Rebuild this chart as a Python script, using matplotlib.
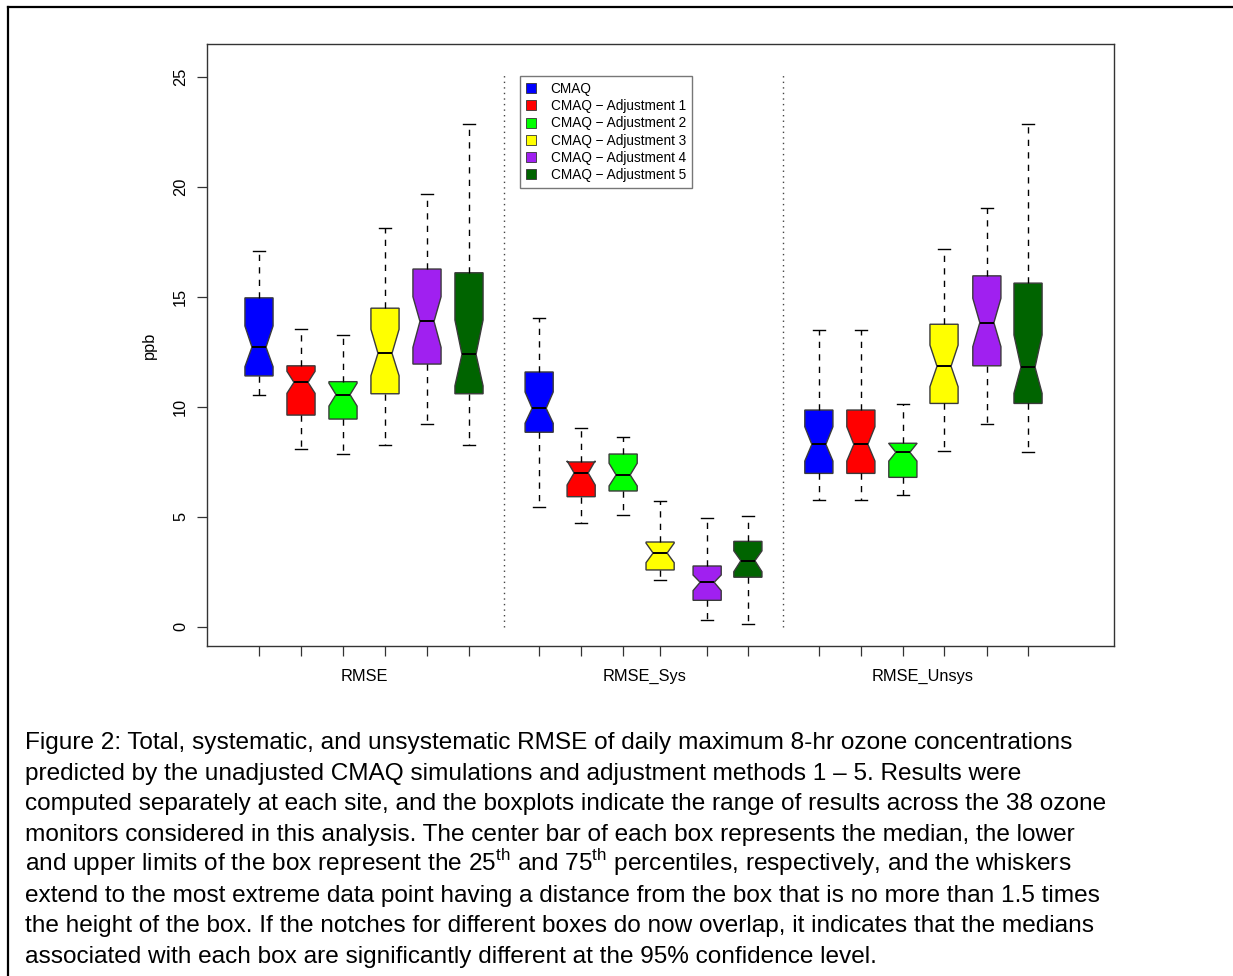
import matplotlib
matplotlib.use("Agg")
import matplotlib.pyplot as plt
from matplotlib.patches import Patch
from matplotlib.lines import Line2D
import matplotlib.transforms as mtransforms

plt.rcParams['font.family'] = ['Liberation Sans', 'DejaVu Sans']
plt.rcParams['mathtext.fontset'] = 'custom'
plt.rcParams['mathtext.rm'] = 'Liberation Sans'

# summary statistics (ppb), one row per metric group
groups = ["RMSE", "RMSE_Sys", "RMSE_Unsys"]
series = ["CMAQ", "CMAQ \u2212 Adjustment 1", "CMAQ \u2212 Adjustment 2",
          "CMAQ \u2212 Adjustment 3", "CMAQ \u2212 Adjustment 4", "CMAQ \u2212 Adjustment 5"]
colors = ["#0000FF", "#FF0000", "#00FF00", "#FFFF00", "#A020F0", "#006400"]

whishi = [[17.09, 13.52, 13.26, 18.11, 19.66, 22.85],
          [14.03, 9.05, 8.64, 5.73, 4.94, 5.02],
          [13.49, 13.49, 10.11, 17.18, 19.03, 22.84]]
q3 = [[14.95, 11.86, 11.14, 14.48, 16.26, 16.09],
      [11.58, 7.49, 7.85, 3.85, 2.76, 3.88],
      [9.85, 9.85, 8.34, 13.75, 15.95, 15.62]]
med = [[12.71, 11.11, 10.55, 12.43, 13.88, 12.38],
       [9.93, 6.99, 6.90, 3.35, 2.02, 3.00],
       [8.29, 8.29, 7.93, 11.84, 13.82, 11.80]]
q1 = [[11.40, 9.62, 9.44, 10.59, 11.94, 10.59],
      [8.84, 5.91, 6.17, 2.58, 1.20, 2.25],
      [6.97, 6.97, 6.79, 10.15, 11.86, 10.15]]
whislo = [[10.52, 8.09, 7.86, 8.25, 9.23, 8.25],
          [5.44, 4.70, 5.06, 2.11, 0.30, 0.12],
          [5.77, 5.77, 5.97, 7.99, 9.21, 7.93]]
notch_lo = [[11.82, 10.61, 10.03, 11.41, 12.70, 10.95],
            [9.25, 6.44, 6.40, 2.91, 1.64, 2.50],
            [7.53, 7.53, 7.53, 10.91, 12.73, 10.61]]
notch_hi = [[13.67, 11.61, 11.07, 13.52, 15.00, 13.94],
            [10.67, 7.54, 7.43, 3.80, 2.35, 3.45],
            [9.09, 9.09, 8.33, 12.80, 14.93, 13.26]]

caption = [
    "Figure 2: Total, systematic, and unsystematic RMSE of daily maximum 8-hr ozone concentrations",
    "predicted by the unadjusted CMAQ simulations and adjustment methods 1 \u2013 5. Results were",
    "computed separately at each site, and the boxplots indicate the range of results across the 38 ozone",
    "monitors considered in this analysis. The center bar of each box represents the median, the lower",
    r"and upper limits of the box represent the 25$^{\mathrm{th}}$ and 75$^{\mathrm{th}}$ percentiles, respectively, and the whiskers",
    "extend to the most extreme data point having a distance from the box that is no more than 1.5 times",
    "the height of the box. If the notches for different boxes do now overlap, it indicates that the medians",
    "associated with each box are significantly different at the 95% confidence level.",
]

W, H = 1233, 976
fig = plt.figure(figsize=(W / 100, H / 100), dpi=100)
ax = fig.add_axes([207 / W, 1 - 646 / H, (1114 - 207) / W, (646 - 44) / H])

# box positions (the fourth box of the middle group sits a little left in the original)
positions = [1, 2, 3, 4, 5, 6,
             7.67, 8.67, 9.67, 10.55, 11.67, 12.64,
             14.33, 15.33, 16.33, 17.31, 18.33, 19.31]

stats = []
fills = []
for g in range(3):
    for s in range(6):
        stats.append(dict(med=med[g][s], q1=q1[g][s], q3=q3[g][s],
                          whislo=whislo[g][s], whishi=whishi[g][s],
                          cilo=notch_lo[g][s], cihi=notch_hi[g][s], fliers=[]))
        fills.append(colors[s])

bp = ax.bxp(stats, positions=positions, widths=0.67, capwidths=0.3,
            patch_artist=True, shownotches=True, showfliers=False,
            boxprops=dict(edgecolor="#3a3a3a", linewidth=1.0),
            medianprops=dict(color="black", linewidth=1.4),
            whiskerprops=dict(color="black", linewidth=1.0, linestyle=(0, (4.5, 4.5))),
            capprops=dict(color="black", linewidth=1.0))
for patch, c in zip(bp["boxes"], fills):
    patch.set_facecolor(c)

# dotted separators between the groups
for xs in [6.83, 13.48]:
    ax.plot([xs, xs], [0, 25.2], color="#444444", linestyle=(0, (1, 3)), linewidth=1.0)

ax.set_xlim(-0.238, 21.357)
ax.set_ylim(-0.877, 26.49)
ax.set_xticks(positions)
ax.set_xticklabels([])
ax.set_yticks([0, 5, 10, 15, 20, 25])
ax.tick_params(axis="both", direction="out", length=7.5, width=0.9, color="#333333",
               labelsize=11.8)
ax.tick_params(axis="y", labelrotation=90, pad=6)
for lab in ax.get_yticklabels():
    lab.set_verticalalignment("center")
for sp in ax.spines.values():
    sp.set_color("#333333")
    sp.set_linewidth(1.0)
ax.set_ylabel("ppb", fontsize=11.8, labelpad=12)

trans = mtransforms.blended_transform_factory(ax.transData, ax.transAxes)
for name, xc in zip(groups, [3.5, 10.17, 16.81]):
    ax.text(xc, -0.05, name, transform=trans, ha="center", va="center", fontsize=11.8)

handles = [Patch(facecolor=c, edgecolor="#333333", linewidth=0.6) for c in colors]
leg = ax.legend(handles, series, loc="upper left", bbox_to_anchor=(0.3455, 0.9468),
                fontsize=9.8, handlelength=0.75, handleheight=0.75, handletextpad=1.05,
                labelspacing=0.24, borderpad=0.42, borderaxespad=0, fancybox=False,
                framealpha=1)
leg.get_frame().set_edgecolor("#777777")
leg.get_frame().set_linewidth(1.0)

# outer frame of the page figure
fig.add_artist(Line2D([8 / W, 8 / W], [0, 1 - 7 / H], color="black", linewidth=1.6,
                      transform=fig.transFigure))
fig.add_artist(Line2D([8 / W, 1], [1 - 7 / H, 1 - 7 / H], color="black", linewidth=1.6,
                      transform=fig.transFigure))

# caption below the chart
y0 = 749.3
for i, line in enumerate(caption):
    fig.text(25 / W, 1 - (y0 + i * 30.5) / H, line, fontsize=17.55,
             ha="left", va="baseline", color="black")

fig.savefig("out.png", dpi=100)
